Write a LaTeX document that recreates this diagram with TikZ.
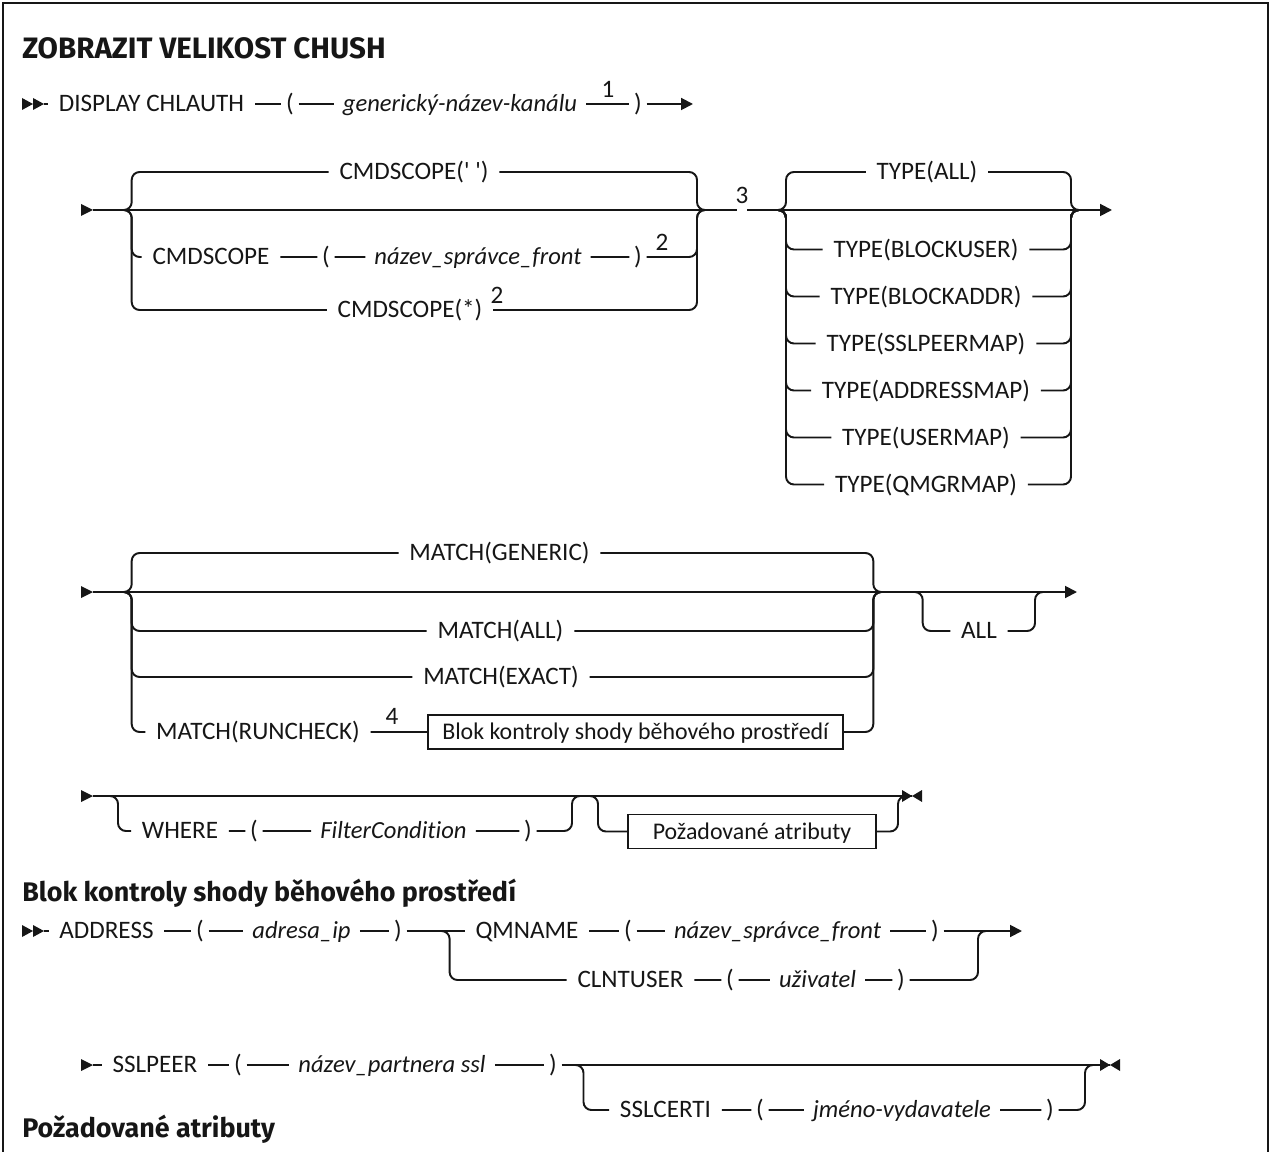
\documentclass[tikz,border=0pt]{standalone}
\usepackage{fontspec}
\setmainfont{Carlito}[Ligatures={TeX,NoCommon}]
\newfontfamily\headfont{Fira Sans}
\usetikzlibrary{arrows.meta}
\definecolor{railink}{HTML}{161616}
\newcommand\railfont{\fontsize{14.3}{17}\selectfont}
\newcommand\varfont{\fontsize{14}{17}\selectfont\itshape}
\newcommand\boxfont{\fontsize{13.6}{16}\selectfont}
\newcommand\titlesize{\headfont\bfseries\fontsize{16.8}{19}\selectfont}
\newcommand\headsize{\headfont\bfseries\fontsize{15.3}{18}\selectfont}

\begin{document}
\begin{tikzpicture}[
  x=0.02cm,
  y=-0.02cm,
  rail/.style={railink, line width=1.1pt, rounded corners=4.5pt},
  arrowend/.style={rail, -{Triangle[length=6.8pt,width=6.8pt]}},
  kw/.style={railink, font=\railfont, inner xsep=6pt, inner ysep=2pt, text height=11pt, text depth=2pt},
  var/.style={kw, font=\varfont, inner xsep=5pt},
  paren/.style={kw, inner xsep=2.5pt},
  note/.style={railink, font=\railfont, inner sep=1pt},
  blockref/.style={kw, font=\boxfont, draw, line width=0.8pt, minimum height=0.68cm},
  heading/.style={railink, font=\headsize, anchor=base west, inner sep=0pt}
]
  \useasboundingbox (0,0) rectangle (1272,1152);
  \draw[railink, line width=1.4pt] (3,1152) -- (3,3) -- (1268,3) -- (1268,1152);

  % title
  \node[heading, font=\titlesize] (title) at (22,59) {ZOBRAZIT VELIKOST CHUSH};

  % DISPLAY CHLAUTH
  \fill[railink] (22,98) -- (33,104) -- (22,110) -- cycle;
  \fill[railink] (33,98) -- (44,104) -- (33,110) -- cycle;
  \coordinate (r1s) at (44,104);
  \coordinate (r1e) at (693,104);
  \node[kw] (disp) at (151.5,104) {DISPLAY CHLAUTH};
  \node[paren] (r1lp) at (290,104) {(};
  \node[var] (chan) at (460,104) {generický-název-kanálu};
  \node[paren] (r1rp) at (638,104) {)};
  \node[note] (fn1) at (608,89) {1};
  \draw[rail] (r1s) -- (disp) -- (r1lp) -- (chan) -- (r1rp);
  \draw[arrowend] (r1rp) -- (r1e);

  % CMDSCOPE
  \fill[railink] (81,204) -- (93,210) -- (81,216) -- cycle;
  \coordinate (r2s) at (93,210);
  \coordinate (cmdL) at (118,210);
  \coordinate (cmdV) at (131.7,210);
  \coordinate (cmdW) at (697,210);
  \coordinate (cmdR) at (706,210);
  \node[kw] (cs1) at (414,172) {CMDSCOPE(\textquotesingle\ \textquotesingle)};
  \node[kw] (cs2a) at (211,257) {CMDSCOPE};
  \node[paren] (cs2b) at (326,257) {(};
  \node[var] (cs2c) at (478,257) {název\_správce\_front};
  \node[paren] (cs2d) at (638,257) {)};
  \node[note] (fn2a) at (662,242) {2};
  \node[kw] (cs3) at (410,310) {CMDSCOPE(*)};
  \node[note] (fn2b) at (497,295) {2};
  \draw[rail] (cmdL) -| (cmdV |- cs1) -- (cs1) -| (cmdW) -- (cmdR);
  \draw[rail] (cmdL) -| (cmdV |- cs2a) -- (cs2a) -- (cs2b) -- (cs2c) -- (cs2d) -| (cmdW) -- (cmdR);
  \draw[rail] (cmdL) -| (cmdV |- cs3) -- (cs3) -| (cmdW) -- (cmdR);

  \coordinate (g3a) at (737,210);
  \coordinate (g3b) at (747,210);
  \node[note] (fn3) at (742,195) {3};
  \draw[rail] (r2s) -- (g3a);

  % TYPE
  \coordinate (typL) at (777,210);
  \coordinate (typV) at (786,210);
  \coordinate (typW) at (1071,210);
  \coordinate (typR) at (1080,210);
  \coordinate (r2e) at (1112,210);
  \node[kw] (ta) at (927,172) {TYPE(ALL)};
  \node[kw] (tb) at (926,249.5) {TYPE(BLOCKUSER)};
  \node[kw] (tc) at (926,296.5) {TYPE(BLOCKADDR)};
  \node[kw] (td) at (926,343.5) {TYPE(SSLPEERMAP)};
  \node[kw] (te) at (926,390.5) {TYPE(ADDRESSMAP)};
  \node[kw] (tf) at (926,437.5) {TYPE(USERMAP)};
  \node[kw] (tg) at (926,484.5) {TYPE(QMGRMAP)};
  \draw[arrowend] (g3b) -- (r2e);
  \draw[rail] (typL) -| (typV |- ta) -- (ta) -| (typW) -- (typR);
  \draw[rail] (typL) -| (typV |- tb) -- (tb) -| (typW) -- (typR);
  \draw[rail] (typL) -| (typV |- tc) -- (tc) -| (typW) -- (typR);
  \draw[rail] (typL) -| (typV |- td) -- (td) -| (typW) -- (typR);
  \draw[rail] (typL) -| (typV |- te) -- (te) -| (typW) -- (typR);
  \draw[rail] (typL) -| (typV |- tf) -- (tf) -| (typW) -- (typR);
  \draw[rail] (typL) -| (typV |- tg) -- (tg) -| (typW) -- (typR);

  % MATCH
  \fill[railink] (81,586) -- (93,592) -- (81,598) -- cycle;
  \coordinate (r3s) at (93,592);
  \coordinate (r3e) at (1077,592);
  \coordinate (matL) at (118,592);
  \coordinate (matV) at (131.7,592);
  \coordinate (matW) at (873.3,592);
  \coordinate (matR) at (882,592);
  \node[kw] (ma) at (499.5,553) {MATCH(GENERIC)};
  \node[kw] (mb) at (500.5,631) {MATCH(ALL)};
  \node[kw] (mc) at (501,677) {MATCH(EXACT)};
  \node[kw] (md) at (258,732) {MATCH(RUNCHECK)};
  \node[note] (fn4) at (392,716) {4};
  \node[blockref, minimum width=8.3cm] (mbox) at (635.5,732) {Blok kontroly shody běhového prostředí};
  \draw[arrowend] (r3s) -- (r3e);
  \draw[rail] (matL) -| (matV |- ma) -- (ma) -| (matW) -- (matR);
  \draw[rail] (matL) -| (matV |- mb) -- (mb) -| (matW) -- (matR);
  \draw[rail] (matL) -| (matV |- mc) -- (mc) -| (matW) -- (matR);
  \draw[rail] (matL) -| (matV |- md) -- (md) -- (mbox) -| (matW) -- (matR);

  \coordinate (allL) at (914,592);
  \coordinate (allV) at (922.7,592);
  \coordinate (allW) at (1035,592);
  \coordinate (allR) at (1044,592);
  \node[kw] (ax) at (979,631) {ALL};
  \draw[rail] (allL) -| (allV |- ax) -- (ax) -| (allW) -- (allR);

  % WHERE
  \fill[railink] (81,790) -- (93,796) -- (81,802) -- cycle;
  \coordinate (r4s) at (93,796);
  \coordinate (r4e) at (912,796);
  \coordinate (whL) at (109,796);
  \coordinate (whV) at (118,796);
  \coordinate (whW) at (572,796);
  \coordinate (whR) at (581,796);
  \node[kw] (wa) at (180,831) {WHERE};
  \node[paren] (wb) at (254,831) {(};
  \node[var] (wc) at (393.5,831) {FilterCondition};
  \node[paren] (wd) at (528,831) {)};
  \coordinate (raL) at (589,796);
  \coordinate (raV) at (598,796);
  \coordinate (raW) at (898,796);
  \node[blockref, minimum width=4.96cm] (rbox) at (752,831.5) {Požadované atributy};
  \draw[rail] (r4s) -- (r4e);
  \draw[rail] (whL) -| (whV |- wa) -- (wa) -- (wb) -- (wc) -- (wd) -| (whW) -- (whR);
  \draw[rail] (raL) -| (raV |- rbox) -- (rbox) -| (raW) -- (r4e);
  \fill[railink] (r4e) -- ++(-10,-6) -- ++(0,12) -- cycle;
  \fill[railink] (r4e) -- ++(10,-6) -- ++(0,12) -- cycle;

  % Blok kontroly shody
  \node[heading] (hblk) at (22,901) {Blok kontroly shody běhového prostředí};

  \fill[railink] (22,925) -- (33,931) -- (22,937) -- cycle;
  \fill[railink] (33,925) -- (44,931) -- (33,937) -- cycle;
  \coordinate (r5s) at (44,931);
  \coordinate (r5e) at (1022,931);
  \coordinate (adL) at (441,931);
  \coordinate (adV) at (449.6,931);
  \coordinate (adW) at (978,931);
  \coordinate (adR) at (987,931);
  \node[kw] (ad) at (106.5,931) {ADDRESS};
  \node[paren] (adb) at (200,931) {(};
  \node[var] (adc) at (301.5,931) {adresa\_ip};
  \node[paren] (add) at (398,931) {)};
  \node[kw] (qa) at (527,931) {QMNAME};
  \node[paren] (qb) at (628,931) {(};
  \node[var] (qc) at (777.5,931) {název\_správce\_front};
  \node[paren] (qd) at (935,931) {)};
  \node[kw] (ca) at (630.5,980) {CLNTUSER};
  \node[paren] (cb) at (730,980) {(};
  \node[var] (cc) at (817.5,980) {uživatel};
  \node[paren] (cd) at (901,980) {)};
  \draw[rail] (r5s) -- (ad) -- (adb) -- (adc) -- (add) -- (qa) -- (qb) -- (qc) -- (qd);
  \draw[arrowend] (qd) -- (r5e);
  \draw[rail] (adL) -| (adV |- ca) -- (ca) -- (cb) -- (cc) -- (cd) -| (adW) -- (adR);

  \fill[railink] (81,1059) -- (93,1065) -- (81,1071) -- cycle;
  \coordinate (r6s) at (93,1065);
  \coordinate (r6e) at (1110,1065);
  \coordinate (spL) at (575,1065);
  \coordinate (spV) at (583.5,1065);
  \coordinate (spW) at (1085,1065);
  \node[kw] (sa) at (155,1065) {SSLPEER};
  \node[paren] (sb) at (238,1065) {(};
  \node[var] (sc) at (392,1065) {název\_partnera ssl};
  \node[paren] (sd) at (553,1065) {)};
  \node[kw] (sta) at (665.5,1110) {SSLCERTI};
  \node[paren] (stb) at (760,1110) {(};
  \node[var] (stc) at (902,1110) {jméno-vydavatele};
  \node[paren] (std) at (1050,1110) {)};
  \draw[rail] (r6s) -- (sa) -- (sb) -- (sc) -- (sd) -- (r6e);
  \draw[rail] (spL) -| (spV |- sta) -- (sta) -- (stb) -- (stc) -- (std) -| (spW) -- (r6e);
  \fill[railink] (r6e) -- ++(-10,-6) -- ++(0,12) -- cycle;
  \fill[railink] (r6e) -- ++(10,-6) -- ++(0,12) -- cycle;

  % Pozadovane atributy
  \node[heading] (hreq) at (22,1137) {Požadované atributy};
\end{tikzpicture}
\end{document}
